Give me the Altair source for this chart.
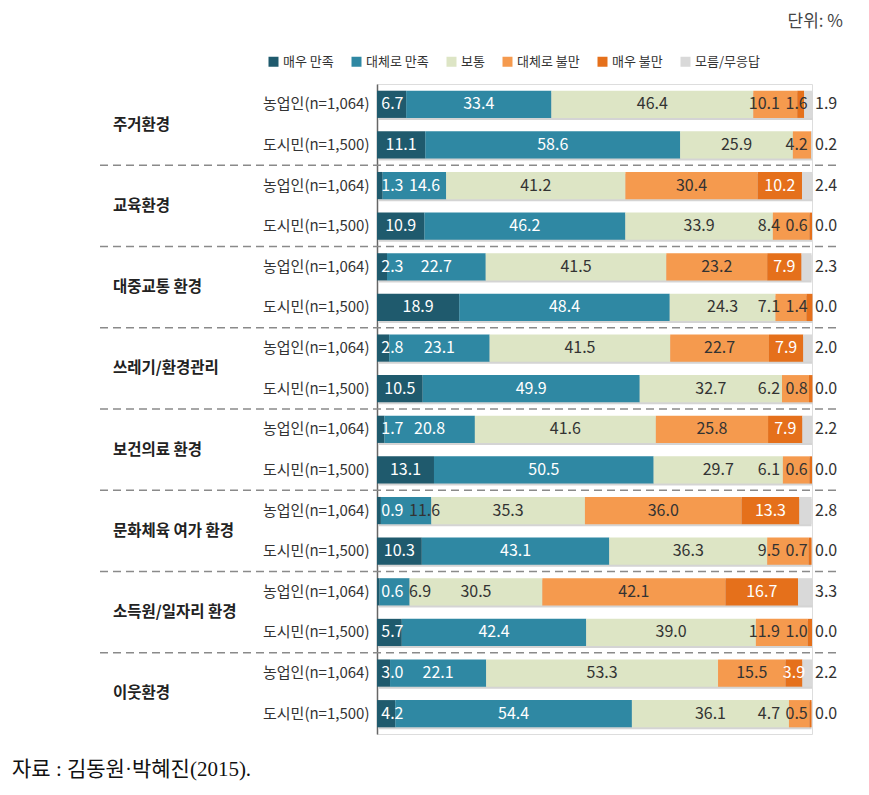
import altair as alt
import pandas as pd

categories = ["주거환경", "교육환경", "대중교통 환경", "쓰레기/환경관리", "보건의료 환경",
              "문화체육 여가 환경", "소득원/일자리 환경", "이웃환경"]
groups = ["농업인(n=1,064)", "도시민(n=1,500)"]
responses = ["매우 만족", "대체로 만족", "보통", "대체로 불만", "매우 불만", "모름/무응답"]
colors = ["#1f5a6d", "#2f88a3", "#dde5c5", "#f59a4e", "#e5701b", "#d9d9d9"]

# rows: for each category, 농업인 then 도시민
very_satisfied = [6.7, 11.1, 1.3, 10.9, 2.3, 18.9, 2.8, 10.5, 1.7, 13.1, 0.9, 10.3, 0.6, 5.7, 3.0, 4.2]
mostly_satisfied = [33.4, 58.6, 14.6, 46.2, 22.7, 48.4, 23.1, 49.9, 20.8, 50.5, 11.6, 43.1, 6.9, 42.4, 22.1, 54.4]
neutral = [46.4, 25.9, 41.2, 33.9, 41.5, 24.3, 41.5, 32.7, 41.6, 29.7, 35.3, 36.3, 30.5, 39.0, 53.3, 36.1]
mostly_dissatisfied = [10.1, 4.2, 30.4, 8.4, 23.2, 7.1, 22.7, 6.2, 25.8, 6.1, 36.0, 9.5, 42.1, 11.9, 15.5, 4.7]
very_dissatisfied = [1.6, 0.0, 10.2, 0.6, 7.9, 1.4, 7.9, 0.8, 7.9, 0.6, 13.3, 0.7, 16.7, 1.0, 3.9, 0.5]
no_answer = [1.9, 0.2, 2.4, 0.0, 2.3, 0.0, 2.0, 0.0, 2.2, 0.0, 2.8, 0.0, 3.3, 0.0, 2.2, 0.0]

unit_text = "단위: %"
source_text = "자료 :  김동원·박혜진(2015)."

FONT = "Noto Sans CJK KR"
VAL_FS = 16
PLOT_W = 435
PLOT_H = 650
N_ROWS = len(categories) * len(groups)
STEP = PLOT_H / N_ROWS
PX_PER_UNIT = PLOT_W / 100.0

series = [very_satisfied, mostly_satisfied, neutral, mostly_dissatisfied, very_dissatisfied, no_answer]
row_ids = [f"{c}|{g}" for c in categories for g in groups]

seg_rows, lab_rows, out_rows, tot_rows = [], [], [], []


def label_w(txt):
    return sum(0.57 * VAL_FS if ch.isdigit() else 0.28 * VAL_FS for ch in txt) / PX_PER_UNIT


gap = 5 / PX_PER_UNIT
left_bound = 4 / PX_PER_UNIT
right_bound = (PLOT_W - 4) / PX_PER_UNIT
for r, rid in enumerate(row_ids):
    start = 0.0
    labs = []
    for i, resp in enumerate(responses):
        v = series[i][r]
        end = start + v
        seg_rows.append({"row": rid, "response": resp, "start": start, "end": end, "value": v})
        if i < 5 and v > 0:
            txt = f"{v:.1f}"
            if i == 0:
                col = "#ffffff"
            elif i == 1:
                col = "#ffffff" if v >= 12 else "#333333"
            elif i in (2, 3):
                col = "#333333"
            else:
                col = "#ffffff" if v >= 3 else "#333333"
            labs.append({"row": rid, "text": txt, "c": (start + end) / 2, "w": label_w(txt), "color": col})
        start = end
    tot_rows.append({"row": rid, "start": 0.0, "end": start})
    # forward pass: keep labels from overlapping to the right
    prev_right = left_bound - gap
    for lb in labs:
        if lb["c"] - lb["w"] / 2 < prev_right + gap:
            lb["c"] = prev_right + gap + lb["w"] / 2
        prev_right = lb["c"] + lb["w"] / 2
    # backward pass: keep labels inside the bar end
    limit = right_bound
    for lb in reversed(labs):
        if lb["c"] + lb["w"] / 2 > limit:
            lb["c"] = limit - lb["w"] / 2
        limit = lb["c"] - lb["w"] / 2 - gap
    for lb in labs:
        lab_rows.append({"row": lb["row"], "text": lb["text"], "pos": lb["c"], "color": lb["color"]})
    out_rows.append({"row": rid, "text": f"{no_answer[r]:.1f}", "pos": 100.0})

seg_df = pd.DataFrame(seg_rows)
lab_df = pd.DataFrame(lab_rows)
out_df = pd.DataFrame(out_rows)
tot_df = pd.DataFrame(tot_rows)
cat_df = pd.DataFrame({"row": [f"{c}|{groups[0]}" for c in categories], "cat": categories})

y_scale = alt.Scale(domain=row_ids, paddingInner=0.33, paddingOuter=0.165)
x_scale = alt.Scale(domain=[0, 100], nice=False, zero=True)

y_enc = alt.Y(
    "row:N", sort=row_ids, scale=y_scale, title=None,
    axis=alt.Axis(labelExpr="split(datum.label, '|')[1]", ticks=False, domainColor="#666666",
                  domainWidth=1.5, labelFontSize=15, labelColor="#333333", labelPadding=8,
                  labelFont=FONT, grid=False),
)

shadow = alt.Chart(tot_df).mark_bar(color="#c9c9c9", xOffset=2, yOffset=2, opacity=0.8).encode(
    x=alt.X("start:Q", scale=x_scale, axis=None),
    x2="end:Q",
    y=y_enc,
)

bars = alt.Chart(seg_df).mark_bar().encode(
    x=alt.X("start:Q", scale=x_scale, axis=None),
    x2="end:Q",
    y=y_enc,
    color=alt.Color(
        "response:N",
        scale=alt.Scale(domain=responses, range=colors),
        legend=alt.Legend(
            title=None, orient="none", legendX=-110, legendY=-29, direction="horizontal",
            columns=6, symbolType="square", symbolSize=100, symbolStrokeWidth=0,
            labelFontSize=13, labelColor="#333333", labelFont=FONT, columnPadding=16,
            labelOffset=3,
        ),
    ),
)

labels = alt.Chart(lab_df).mark_text(fontSize=VAL_FS, baseline="middle", align="center", font=FONT).encode(
    x=alt.X("pos:Q", scale=x_scale, axis=None),
    y=alt.Y("row:N", sort=row_ids, scale=y_scale),
    text="text:N",
    color=alt.Color("color:N", scale=None),
)

out_labels = alt.Chart(out_df).mark_text(fontSize=VAL_FS, baseline="middle", align="left", dx=3,
                                         font=FONT, color="#333333").encode(
    x=alt.X("pos:Q", scale=x_scale, axis=None),
    y=alt.Y("row:N", sort=row_ids, scale=y_scale),
    text="text:N",
)

cat_labels = alt.Chart(cat_df).mark_text(fontSize=15.5, fontWeight="bold", baseline="middle",
                                         align="left", dy=STEP / 2, font=FONT,
                                         color="#222222").encode(
    x=alt.value(113 - 377),
    y=alt.Y("row:N", sort=row_ids, scale=y_scale),
    text="cat:N",
)

layers = [shadow, bars, labels, out_labels, cat_labels]

for k in range(1, len(categories)):
    layers.append(
        alt.Chart(alt.Data(values=[{}])).mark_rule(color="#8a8a8a", strokeWidth=1.5, strokeDash=[8, 5]).encode(
            x=alt.value(100 - 377), x2=alt.value(840 - 377), y=alt.value(k * 2 * STEP)
        )
    )

layers.append(
    alt.Chart(alt.Data(values=[{"t": unit_text}])).mark_text(
        fontSize=17, align="right", baseline="middle", font=FONT, color="#444444"
    ).encode(x=alt.value(843 - 377), y=alt.value(22 - 84), text="t:N")
)
layers.append(
    alt.Chart(alt.Data(values=[{"t": source_text}])).mark_text(
        fontSize=21, align="left", baseline="middle", font="Liberation Serif, Noto Sans CJK KR", color="#111111"
    ).encode(x=alt.value(12 - 377), y=alt.value(770 - 84), text="t:N")
)

chart = alt.layer(*layers).properties(
    width=PLOT_W, height=PLOT_H,
    autosize=alt.AutoSizeParams(type="none"),
    padding={"left": 369, "top": 76, "right": 49, "bottom": 53},
).configure_view(stroke=None).configure(font=FONT)

chart.save("out.html", embed_options={"renderer": "svg", "actions": False})
